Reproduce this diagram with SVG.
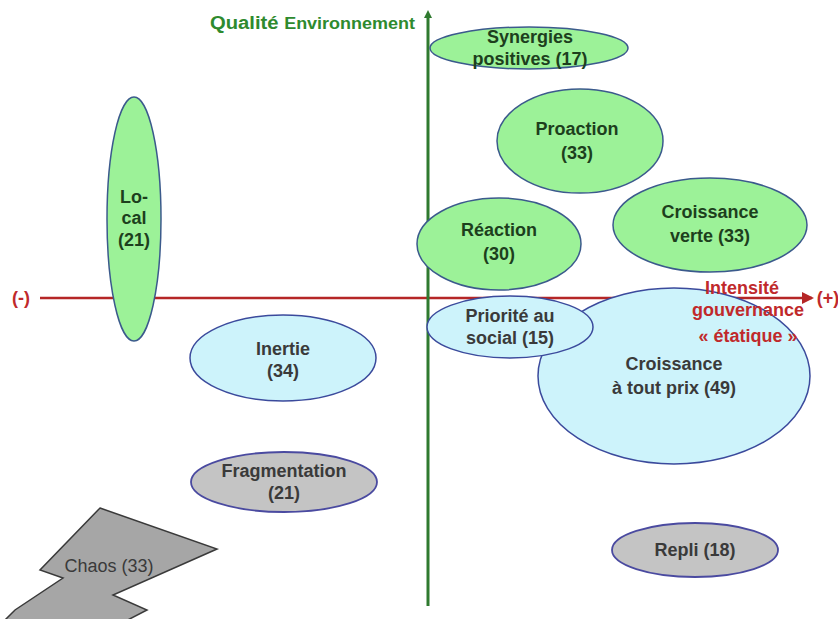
<svg xmlns="http://www.w3.org/2000/svg" width="838" height="619" viewBox="0 0 838 619">
<style>
text{font-family:"Liberation Sans",Arial,sans-serif;font-weight:bold;font-size:18px;text-anchor:middle}
.g{fill:#9cf298;stroke:#3b5a8c;stroke-width:1.5}
.b{fill:#cdf3fb;stroke:#3b4a9c;stroke-width:1.5}
.s{fill:#c4c4c4;stroke:#4a4aa0;stroke-width:1.8}
.tg{fill:#1d3f1d}
.tb{fill:#3a3a3a}
.red{fill:#c0292b}
</style>
<defs>
<marker id="ag" markerWidth="8" markerHeight="8" refX="4" refY="4" orient="auto" markerUnits="userSpaceOnUse"><path d="M0,0 L8,4 L0,8 Z" fill="#2f7a2f"/></marker>
<marker id="ar" markerWidth="12" markerHeight="12" refX="10" refY="6" orient="auto" markerUnits="userSpaceOnUse"><path d="M0,0 L12,6 L0,12 Z" fill="#b52626"/></marker>
</defs>
<rect width="838" height="619" fill="#ffffff"/>
<g id="connectors">
<line x1="40" y1="298" x2="812" y2="298" stroke="#b52626" stroke-width="2.5" marker-end="url(#ar)"/>
<line x1="428" y1="606" x2="428" y2="14" stroke="#2f7a2f" stroke-width="3" marker-end="url(#ag)"/>
</g>
<g id="chaos"><polygon points="100,508 217,549 113,595 147,610 118,625 0,625 15,610 63,578 40,570" fill="#a6a6a6" stroke="#3a3a3a" stroke-width="1.5"/><text x="109" y="572" class="tb" style="font-weight:normal">Chaos (33)</text></g>
<g id="local"><ellipse cx="134" cy="219" rx="27" ry="122" class="g"/><text x="134" y="203" class="tg">Lo-</text><text x="134" y="224" class="tg">cal</text><text x="134" y="246" class="tg">(21)</text></g>
<g id="synergies"><ellipse cx="529" cy="48" rx="99" ry="21" class="g"/><text x="530" y="43" class="tg">Synergies</text><text x="530" y="65" class="tg">positives (17)</text></g>
<g id="proaction"><ellipse cx="580" cy="141" rx="83" ry="52" class="g"/><text x="577" y="135" class="tg">Proaction</text><text x="577" y="159" class="tg">(33)</text></g>
<g id="croissance-verte"><ellipse cx="710" cy="225" rx="97" ry="47" class="g"/><text x="710" y="218" class="tg">Croissance</text><text x="710" y="242" class="tg">verte (33)</text></g>
<g id="reaction"><ellipse cx="499" cy="244" rx="82" ry="46" class="g"/><text x="499" y="236" class="tg">Réaction</text><text x="499" y="260" class="tg">(30)</text></g>
<g id="croissance-tout-prix"><ellipse cx="674" cy="376" rx="136" ry="88" class="b"/><text x="674" y="370" class="tb">Croissance</text><text x="674" y="394" class="tb">à tout prix (49)</text></g>
<g id="priorite-social"><ellipse cx="510" cy="327" rx="83" ry="31" class="b"/><text x="510" y="322" class="tb">Priorité au</text><text x="510" y="344" class="tb">social (15)</text></g>
<g id="inertie"><ellipse cx="283" cy="358" rx="93" ry="43" class="b"/><text x="283" y="355" class="tb">Inertie</text><text x="283" y="377" class="tb">(34)</text></g>
<g id="fragmentation"><ellipse cx="284" cy="482" rx="93" ry="30" class="s"/><text x="284" y="477" class="tb">Fragmentation</text><text x="284" y="499" class="tb">(21)</text></g>
<g id="repli"><ellipse cx="695" cy="550" rx="83" ry="27" class="s"/><text x="695" y="556" class="tb">Repli (18)</text></g>
<g id="labels">
<text x="210" y="29" textLength="205" lengthAdjust="spacingAndGlyphs" style="text-anchor:start;fill:#2e8a2e;font-size:18px">Qualité <tspan style="font-size:16px">Environnement</tspan></text>
<text x="21" y="304" class="red">(-)</text>
<text x="828" y="304" class="red">(+)</text>
<text x="742" y="294" class="red">Intensité</text>
<text x="748" y="316" class="red">gouvernance</text>
<text x="748" y="342" class="red">« étatique »</text>
</g>
</svg>
